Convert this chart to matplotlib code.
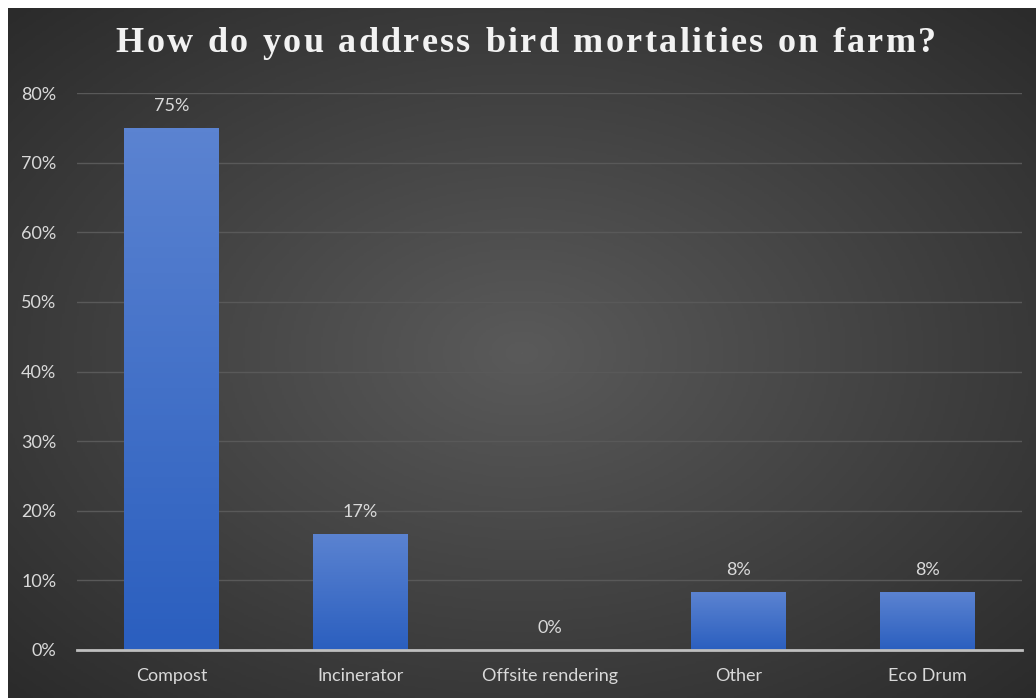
import numpy as np
import matplotlib.pyplot as plt
from matplotlib.colors import LinearSegmentedColormap

categories = ['Compost', 'Incinerator', 'Offsite rendering', 'Other', 'Eco Drum']
values = [75.0, 16.67, 0.0, 8.33, 8.33]
labels = ['75%', '17%', '0%', '8%', '8%']
yticks = [0, 10, 20, 30, 40, 50, 60, 70, 80]
title = 'How do you address bird mortalities on farm?'

W, H = 1036, 698
fig = plt.figure(figsize=(W / 100, H / 100), dpi=100, facecolor='white')

# dark radial background
bg = fig.add_axes([8 / W, 0, 1 - 8 / W, 1 - 8 / H])
bg.set_axis_off()
yy, xx = np.mgrid[-1:1:300j, -1:1:450j]
r = np.sqrt(xx ** 2 + yy ** 2) / np.sqrt(2)
bgmap = LinearSegmentedColormap.from_list('bg', ['#5a5a5a', '#2b2b2b'])
bg.imshow(r, cmap=bgmap, aspect='auto', extent=[0, 1, 0, 1], vmin=0, vmax=1)
bg.set_xlim(0, 1)
bg.set_ylim(0, 1)

# title with letter spacing, drawn one character at a time
renderer = fig.canvas.get_renderer()
tkw = dict(color='#f2f2f2', fontsize=26, fontweight='bold',
           family=['Liberation Serif', 'DejaVu Serif'], va='center', ha='left')
track = 2.3
widths = []
for ch in title:
    t = fig.text(0, 0, ch.replace(' ', '\u00a0') if ch != ' ' else 'n', **tkw)
    w = t.get_window_extent(renderer).width
    if ch == ' ':
        w *= 0.5
    widths.append(w)
    t.remove()
total = sum(widths) + track * (len(title) - 1)
xpos = 526 - total / 2
for ch, w in zip(title, widths):
    if ch != ' ':
        fig.text(xpos / W, 1 - 44 / H, ch, **tkw)
    xpos += w + track

ax = fig.add_axes([77 / W, 48 / H, (1022 - 77) / W, (650 - 93) / H])
ax.patch.set_alpha(0)
x = np.arange(len(categories))
bars = ax.bar(x, values, width=0.5, color='#4472c4', zorder=2)

grad = np.linspace(0, 1, 100).reshape(-1, 1)
barmap = LinearSegmentedColormap.from_list('bar', ['#5b83d1', '#2b5fbf'])
for b in bars:
    if b.get_height() <= 0:
        continue
    im = ax.imshow(grad, cmap=barmap, aspect='auto', zorder=3,
                   extent=[b.get_x(), b.get_x() + b.get_width(), 0, b.get_height()])
    im.set_clip_path(b)

for xi, v, lab in zip(x, values, labels):
    ax.annotate(lab, (xi, v), xytext=(0, 15.5), textcoords='offset points',
                ha='center', va='center', color='#d9d9d9', fontsize=13,
                family=['Lato', 'DejaVu Sans'])

ax.set_xlim(-0.5, len(categories) - 0.5)
ax.set_ylim(0, 80)
ax.set_yticks(yticks)
ax.set_yticklabels([f'{t}%' for t in yticks])
ax.set_xticks(x)
ax.set_xticklabels(categories)
ax.yaxis.grid(True, color='#595959', linewidth=1, zorder=0)
ax.set_axisbelow(True)
for s in ['top', 'right', 'left']:
    ax.spines[s].set_visible(False)
ax.spines['bottom'].set_color('#bfbfbf')
ax.spines['bottom'].set_linewidth(2)
ax.spines['bottom'].set_zorder(4)
ax.tick_params(length=0, colors='#d9d9d9', labelsize=13)
ax.tick_params(axis='x', pad=13)
ax.tick_params(axis='y', pad=15)
for t in ax.get_xticklabels() + ax.get_yticklabels():
    t.set_family(['Lato', 'DejaVu Sans'])

fig.savefig('out.png', dpi=100, facecolor='white')
